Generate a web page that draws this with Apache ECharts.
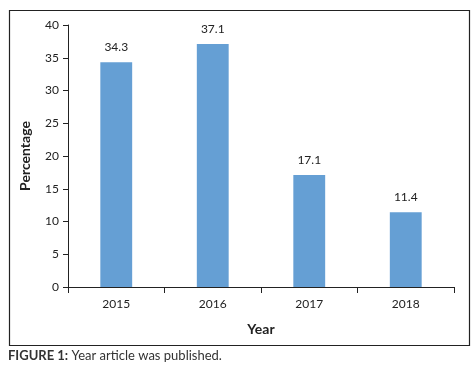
<!DOCTYPE html>
<html>
<head>
<meta charset="utf-8">
<script src="https://cdn.jsdelivr.net/npm/echarts@6/dist/echarts.min.js"></script>
<style>html,body{margin:0;padding:0;background:#fff;}#c{width:474px;height:376px;}</style>
</head>
<body>
<div id="c"></div>
<script>
var categories = ['2015', '2016', '2017', '2018'];
var values = [34.3, 37.1, 17.1, 11.4];
var yTicks = [0, 5, 10, 15, 20, 25, 30, 35, 40];

var FONT = 'Lato, "Open Sans", sans-serif';
var chart = echarts.init(document.getElementById('c'), null, {renderer: 'canvas'});
chart.setOption({
  animation: false,
  backgroundColor: '#fff',
  grid: {left: 68, top: 25, right: 20, bottom: 89, containLabel: false},
  xAxis: {
    type: 'category',
    data: categories,
    name: 'Year',
    nameLocation: 'middle',
    nameGap: 35,
    nameTextStyle: {fontFamily: FONT, fontSize: 14, fontWeight: 'bold', color: '#222'},
    axisLine: {lineStyle: {color: '#222', width: 1}},
    axisTick: {show: true, length: 6, inside: false, lineStyle: {color: '#222'}},
    axisLabel: {fontFamily: FONT, fontSize: 12, color: '#222', margin: 11}
  },
  yAxis: {
    type: 'value',
    min: yTicks[0],
    max: yTicks[yTicks.length - 1],
    interval: 5,
    name: 'Percentage',
    nameLocation: 'middle',
    nameGap: 36,
    nameTextStyle: {fontFamily: FONT, fontSize: 14, fontWeight: 'bold', color: '#222'},
    axisLine: {show: true, lineStyle: {color: '#222', width: 1}},
    axisTick: {show: true, length: 5, lineStyle: {color: '#222'}},
    axisLabel: {fontFamily: FONT, fontSize: 12, color: '#222', margin: 9},
    splitLine: {show: false}
  },
  series: [{
    type: 'bar',
    data: values,
    barWidth: '33%',
    itemStyle: {color: '#659fd4'},
    label: {show: true, position: 'top', distance: 9, fontFamily: FONT, fontSize: 12, color: '#222',
      formatter: function (p) { return p.value.toFixed(1); }}
  }],
  graphic: [
    {type: 'rect', left: 7, top: 8, shape: {x: 0, y: 0, width: 460, height: 335},
      style: {fill: 'none', stroke: '#222', lineWidth: 1.2}, z: 100},
    {type: 'text', left: 8, top: 349,
      style: {
        text: '{b|FIGURE 1:} {n|Year article was published.}',
        rich: {
          b: {fontFamily: FONT, fontSize: 13, fontWeight: 'bold', fill: '#333'},
          n: {fontFamily: FONT, fontSize: 13, fill: '#333'}
        }
      }}
  ]
});
</script>
</body>
</html>
